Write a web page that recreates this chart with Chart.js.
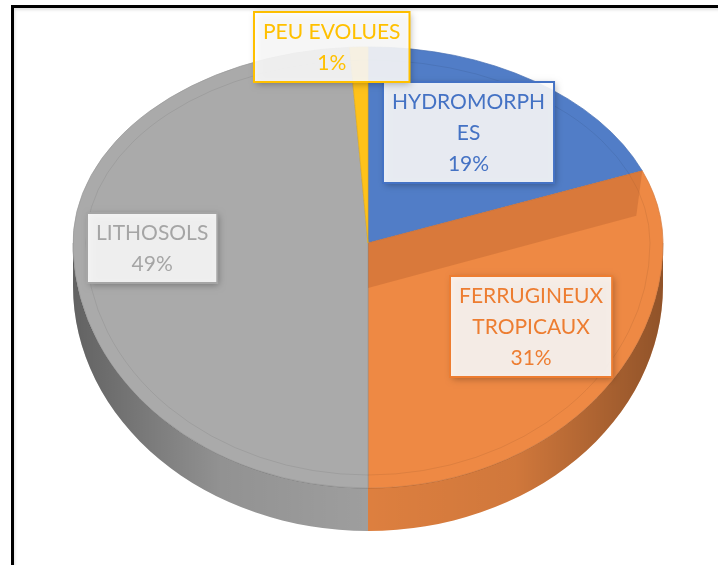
<!DOCTYPE html>
<html>
<head>
<meta charset="utf-8">
<script src="https://cdn.jsdelivr.net/npm/chart.js@4.4.1/dist/chart.umd.min.js"></script>
<style>
    html, body { margin: 0; padding: 0; background: #fff; overflow: hidden; }
    #wrap { position: relative; width: 718px; height: 565px; overflow: hidden; }
    #pie { position: absolute; left: 0; top: 0; }
    #frame {
        position: absolute; left: 11px; top: 5px; right: -40px; bottom: -40px;
        border-top: 3px solid #000; border-left: 3px solid #000;
        box-shadow: inset 1px 2px 3px rgba(0,0,0,0.12);
        pointer-events: none;
    }
</style>
</head>
<body>
<div id="wrap">
    <canvas id="pie" width="718" height="565"></canvas>
    <div id="frame"></div>
</div>
<script>
// data (Excel 3D pie, clockwise from 12 o'clock)
const categories = ['HYDROMORPHES', 'FERRUGINEUX TROPICAUX', 'LITHOSOLS', 'PEU EVOLUES'];
const shares = [19, 31, 49, 1];

// colours
const baseColors = ['#4472C4', '#ED7D31', '#A5A5A5', '#FFC000'];
const faceColors = ['#517DC7', '#EE8944', '#AAAAAA', '#FFC21A'];

// top face of the disc: back half flatter than front half (perspective)
const face = { cx: 368, cy: 243, rx: 295, ryTop: 196, ryBot: 245, depth: 43 };
// small label nudges, like Excel's best-fit placement
const labelShift = [[-12, 0], [-3, -10], [-15, 0], [-27, 0]];

function darken(hex, f) {
    const n = parseInt(hex.slice(1), 16);
    const r = Math.round(((n >> 16) & 255) * f);
    const g = Math.round(((n >> 8) & 255) * f);
    const b = Math.round((n & 255) * f);
    return 'rgb(' + r + ',' + g + ',' + b + ')';
}

function wrapText(ctx, text, maxW) {
    const lines = [];
    let cur = '';
    for (const word of text.split(' ')) {
        const trial = cur ? cur + ' ' + word : word;
        if (ctx.measureText(trial).width <= maxW) { cur = trial; continue; }
        if (cur) lines.push(cur);
        let w = word;
        while (ctx.measureText(w).width > maxW) {
            let k = w.length;
            while (k > 1 && ctx.measureText(w.slice(0, k)).width > maxW) k--;
            lines.push(w.slice(0, k));
            w = w.slice(k);
        }
        cur = w;
    }
    if (cur) lines.push(cur);
    return lines;
}

function facePath(ctx, inset) {
    ctx.beginPath();
    ctx.ellipse(face.cx, face.cy, face.rx - inset, face.ryTop - inset, 0, Math.PI, Math.PI * 2);
    ctx.ellipse(face.cx, face.cy, face.rx - inset, face.ryBot - inset, 0, 0, Math.PI);
    ctx.closePath();
}

function mapPoint(angle, frac) {
    const s = Math.sin(angle);
    return {
        x: face.cx + face.rx * frac * Math.cos(angle),
        y: face.cy + (s < 0 ? face.ryTop : face.ryBot) * frac * s
    };
}

// side wall of one slice (only the front half of the disc shows)
function drawSide(ctx, start, end, color) {
    const lo = Math.max(start, 0), hi = Math.min(end, Math.PI);
    if (hi <= lo) return;
    const { cx, cy, rx, ryBot, depth } = face;
    ctx.beginPath();
    ctx.ellipse(cx, cy, rx, ryBot, 0, lo, hi);
    ctx.ellipse(cx, cy + depth, rx, ryBot, 0, hi, lo, true);
    ctx.closePath();
    ctx.fillStyle = darken(color, 0.93);
    ctx.fill();
    const g = ctx.createLinearGradient(cx - rx, 0, cx + rx, 0);
    g.addColorStop(0, 'rgba(0,0,0,0.38)');
    g.addColorStop(0.25, 'rgba(0,0,0,0.08)');
    g.addColorStop(0.5, 'rgba(0,0,0,0.0)');
    g.addColorStop(0.75, 'rgba(0,0,0,0.06)');
    g.addColorStop(1, 'rgba(0,0,0,0.35)');
    ctx.fillStyle = g;
    ctx.fill();
    ctx.strokeStyle = 'rgba(0,0,0,0.25)';
    ctx.lineWidth = 1;
    ctx.beginPath();
    ctx.ellipse(cx, cy, rx, ryBot, 0, lo, hi);
    ctx.stroke();
}

function setFaceTransform(ctx, a0, ry) {
    ctx.translate(face.cx, face.cy);
    ctx.scale(face.rx / a0.outerRadius, ry / a0.outerRadius);
    ctx.translate(-a0.x, -a0.y);
}

const pie3d = {
    id: 'pie3d',
    beforeDatasetsDraw(chart) {
        const ctx = chart.ctx;
        const arcs = chart.getDatasetMeta(0).data;
        arcs.forEach((arc, i) => drawSide(ctx, arc.startAngle, arc.endAngle, faceColors[i]));
        // back half of the top face: drawn by the chart itself
        ctx.save();
        ctx.beginPath();
        ctx.rect(0, 0, chart.width, face.cy);
        ctx.clip();
        setFaceTransform(ctx, arcs[0], face.ryTop);
    },
    afterDatasetsDraw(chart) {
        const ctx = chart.ctx;
        ctx.restore();
        const arcs = chart.getDatasetMeta(0).data;
        const { cx, cy, depth } = face;

        // front half of the top face: the same arc elements again
        ctx.save();
        ctx.beginPath();
        ctx.rect(0, cy, chart.width, chart.height - cy);
        ctx.clip();
        setFaceTransform(ctx, arcs[0], face.ryBot);
        arcs.forEach(arc => arc.draw(ctx));
        ctx.restore();

        // faint bevel ring on the top face
        ctx.save();
        facePath(ctx, 13);
        ctx.strokeStyle = 'rgba(0,0,0,0.07)';
        ctx.lineWidth = 1;
        ctx.stroke();
        ctx.restore();

        // radial wall seen on the orange face below the blue edge
        const p = mapPoint(arcs[0].endAngle, 1);
        ctx.save();
        facePath(ctx, 0);
        ctx.clip();
        ctx.beginPath();
        ctx.moveTo(cx, cy);
        ctx.lineTo(p.x, p.y);
        ctx.lineTo(p.x - 6, p.y + depth + 2);
        ctx.lineTo(cx, cy + depth + 2);
        ctx.closePath();
        ctx.fillStyle = 'rgba(170,85,40,0.3)';
        ctx.fill();
        ctx.restore();

        // data labels
        const total = shares.reduce((s, v) => s + v, 0);
        ctx.save();
        ctx.font = '21px Lato';
        ctx.textAlign = 'center';
        ctx.textBaseline = 'middle';
        const lineH = 31;
        arcs.forEach((arc, i) => {
            const pct = shares[i] / total;
            const mid = (arc.startAngle + arc.endAngle) / 2;
            const pt = mapPoint(mid, pct < 0.05 ? 1.0 : 0.68);
            const x = pt.x + labelShift[i][0];
            const y = pt.y + labelShift[i][1];
            const lines = wrapText(ctx, categories[i], 165);
            lines.push(Math.round(pct * 100) + '%');
            const w = Math.max(...lines.map(l => ctx.measureText(l).width)) + 18;
            const h = lines.length * lineH + 8;
            const bx = Math.round(x - w / 2), by = Math.round(y - h / 2);

            ctx.save();
            ctx.shadowColor = 'rgba(0,0,0,0.35)';
            ctx.shadowBlur = 7;
            ctx.shadowOffsetX = 2;
            ctx.shadowOffsetY = 2;
            ctx.fillStyle = 'rgba(255,255,255,0.88)';
            ctx.fillRect(bx, by, w, h);
            ctx.restore();
            ctx.strokeStyle = baseColors[i];
            ctx.lineWidth = 2;
            ctx.strokeRect(bx, by, w, h);

            ctx.fillStyle = baseColors[i];
            lines.forEach((l, k) => {
                ctx.fillText(l, bx + w / 2, by + 4 + lineH / 2 + k * lineH + 1);
            });
        });
        ctx.restore();
    }
};

new Chart(document.getElementById('pie'), {
    type: 'pie',
    data: {
        labels: categories,
        datasets: [{
            data: shares,
            backgroundColor: faceColors,
            borderColor: faceColors.map(c => darken(c, 0.9)),
            borderWidth: 0.8,
            clip: false
        }]
    },
    options: {
        responsive: false,
        animation: false,
        events: [],
        plugins: {
            legend: { display: false },
            tooltip: { enabled: false }
        }
    },
    plugins: [pie3d]
});
</script>
</body>
</html>
